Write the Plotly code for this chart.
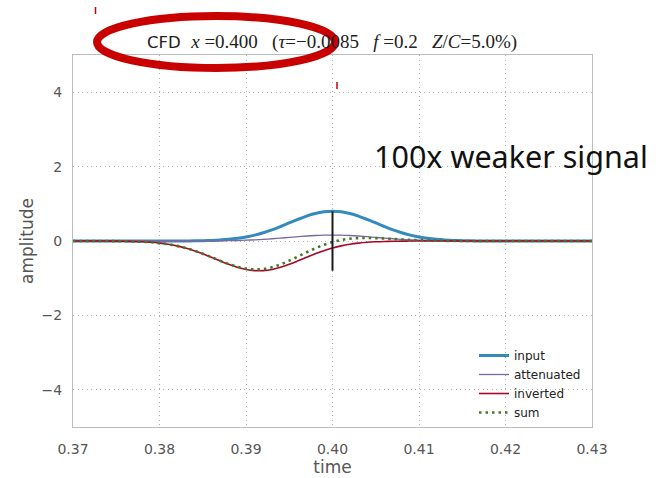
import plotly.graph_objects as go

# sample times (s)
time = [0.370, 0.371, 0.372, 0.373, 0.374, 0.375, 0.376, 0.377, 0.378, 0.379,
        0.380, 0.381, 0.382, 0.383, 0.384, 0.385, 0.386, 0.387, 0.388, 0.389,
        0.390, 0.391, 0.392, 0.393, 0.394, 0.395, 0.396, 0.397, 0.398, 0.399,
        0.400, 0.401, 0.402, 0.403, 0.404, 0.405, 0.406, 0.407, 0.408, 0.409,
        0.410, 0.411, 0.412, 0.413, 0.414, 0.415, 0.416, 0.417, 0.418, 0.419,
        0.420, 0.421, 0.422, 0.423, 0.424, 0.425, 0.426, 0.427, 0.428, 0.429,
        0.430]

input_sig = [0, 0, 0, 0, 0, 0, 0, 0, 0, 0, 0, 0,
             0.001, 0.002, 0.005, 0.009, 0.016, 0.027, 0.045, 0.071, 0.108,
             0.158, 0.222, 0.300, 0.390, 0.486, 0.581, 0.668, 0.738, 0.784,
             0.800,
             0.784, 0.738, 0.668, 0.581, 0.486, 0.390, 0.300, 0.222, 0.158,
             0.108, 0.071, 0.045, 0.027, 0.016, 0.009, 0.005, 0.002, 0.001,
             0, 0, 0, 0, 0, 0, 0, 0, 0, 0, 0, 0]

attenuated = [0, 0, 0, 0, 0, 0, 0, 0, 0, 0, 0, 0, 0, 0,
              0.001, 0.002, 0.003, 0.005, 0.009, 0.014, 0.022, 0.032, 0.044,
              0.060, 0.078, 0.097, 0.116, 0.134, 0.148, 0.157,
              0.160,
              0.157, 0.148, 0.134, 0.116, 0.097, 0.078, 0.060, 0.044, 0.032,
              0.022, 0.014, 0.009, 0.005, 0.003, 0.002, 0.001,
              0, 0, 0, 0, 0, 0, 0, 0, 0, 0, 0, 0, 0, 0]

inverted = [0, 0, 0, -0.001, -0.002, -0.003, -0.007, -0.012, -0.021, -0.035,
            -0.057, -0.088, -0.131, -0.189, -0.260, -0.344, -0.437, -0.534,
            -0.626, -0.706, -0.765, -0.796, -0.796, -0.765, -0.706, -0.626,
            -0.534, -0.437, -0.344, -0.260, -0.189, -0.131, -0.088, -0.057,
            -0.035, -0.021, -0.012, -0.007, -0.003, -0.002, -0.001,
            0, 0, 0, 0, 0, 0, 0, 0, 0, 0, 0, 0, 0, 0, 0, 0, 0, 0, 0, 0]

sum_sig = [0, 0, 0, -0.001, -0.002, -0.003, -0.007, -0.012, -0.021, -0.035,
           -0.057, -0.088, -0.131, -0.188, -0.259, -0.342, -0.434, -0.529,
           -0.617, -0.692, -0.743, -0.764, -0.752, -0.705, -0.628, -0.529,
           -0.418, -0.303, -0.196, -0.103, -0.029, 0.026, 0.060, 0.077,
           0.081, 0.076, 0.066, 0.053, 0.041, 0.030, 0.021, 0.014, 0.009,
           0.005, 0.003, 0.002, 0.001,
           0, 0, 0, 0, 0, 0, 0, 0, 0, 0, 0, 0, 0, 0]

# zero-crossing marker
cfd_time = [0.400, 0.400]
cfd_span = [-0.8, 0.8]

x_ticks = [0.37, 0.38, 0.39, 0.40, 0.41, 0.42, 0.43]
x_labels = ["0.37", "0.38", "0.39", "0.40", "0.41", "0.42", "0.43"]
y_ticks = [-4, -2, 0, 2, 4]
y_labels = ["\u22124", "\u22122", "0", "2", "4"]

W, H = 656, 478
L, R, T, B = 73, 64, 55, 51
PW, PH = W - L - R, H - T - B


def px(x):
    return (x - L) / PW


def py(y):
    return (H - B - y) / PH


fig = go.Figure()
fig.add_trace(go.Scatter(x=time, y=input_sig, name="input", mode="lines",
                         line=dict(color="#348ABD", width=3, shape="spline")))
fig.add_trace(go.Scatter(x=time, y=attenuated, name="attenuated", mode="lines",
                         line=dict(color="#7A68A6", width=1.3, shape="spline")))
fig.add_trace(go.Scatter(x=time, y=inverted, name="inverted", mode="lines",
                         line=dict(color="#A60628", width=1.6, shape="spline")))
fig.add_trace(go.Scatter(x=time, y=sum_sig, name="sum", mode="lines",
                         line=dict(color="#467821", width=2.6, shape="spline",
                                   dash="2.5px,4px")))
fig.add_trace(go.Scatter(x=cfd_time, y=cfd_span, mode="lines", showlegend=False,
                         line=dict(color="#1a1a1a", width=2)))

axis_common = dict(
    showline=True, linecolor="#bcbcbc", linewidth=1.2, mirror=True,
    showgrid=True, gridcolor="#b0b0b0", griddash="1px,3.5px", gridwidth=1,
    zeroline=False, ticks="", tickfont=dict(size=14, color="#555555"),
    title_font=dict(size=17, color="#555555"),
)

fig.update_xaxes(range=[0.37, 0.43], tickvals=x_ticks, ticktext=x_labels,
                 title_text="time", title_standoff=5, ticklabelstandoff=9,
                 **axis_common)
fig.update_yaxes(range=[-5, 5], tickvals=y_ticks, ticktext=y_labels,
                 title_text="amplitude", title_standoff=3, ticklabelstandoff=7,
                 **axis_common)

sp2 = "\u00a0\u00a0"
sp3 = "\u00a0\u00a0\u00a0"
title_text = ("CFD" + sp2 +
              "<span style=\"font-family:'Liberation Serif';font-size:19px\">"
              "<i>x</i> =0.400" + sp3 + "(<i>\u03c4</i>=\u22120.0085" + sp3 +
              "<i>f</i> =0.2" + sp3 + "<i>Z</i>/<i>C</i>=5.0%)</span>")

fig.add_annotation(text=title_text, xref="paper", yref="paper",
                   x=px(332), y=py(42), xanchor="center", yanchor="middle",
                   showarrow=False, font=dict(size=16.5, color="#222222",
                                              family="DejaVu Sans"))

fig.add_annotation(text="100x weaker signal", xref="paper", yref="paper",
                   x=px(511), y=py(156), xanchor="center", yanchor="middle",
                   showarrow=False, font=dict(size=30.5, color="#111111",
                                              family="Noto Sans"))

fig.add_shape(type="circle", xref="paper", yref="paper",
              x0=px(97), x1=px(335), y0=py(68), y1=py(16),
              line=dict(color="#c80000", width=8))
fig.add_shape(type="line", xref="paper", yref="paper",
              x0=px(95.5), x1=px(95.5), y0=py(7), y1=py(14),
              line=dict(color="#c80000", width=1.5))
fig.add_shape(type="line", xref="paper", yref="paper",
              x0=px(337), x1=px(337), y0=py(82), y1=py(89),
              line=dict(color="#c80000", width=1.5))

fig.update_layout(
    width=W, height=H,
    margin=dict(l=L, r=R, t=T, b=B, autoexpand=False),
    paper_bgcolor="white", plot_bgcolor="white",
    font=dict(family="DejaVu Sans", color="#222222"),
    showlegend=True,
    legend=dict(x=px(474), y=py(341), xanchor="left", yanchor="top",
                bgcolor="rgba(255,255,255,0)", borderwidth=0,
                font=dict(size=12, color="#222222"), itemwidth=30,
                tracegroupgap=0),
)

fig.write_html("out.html")
